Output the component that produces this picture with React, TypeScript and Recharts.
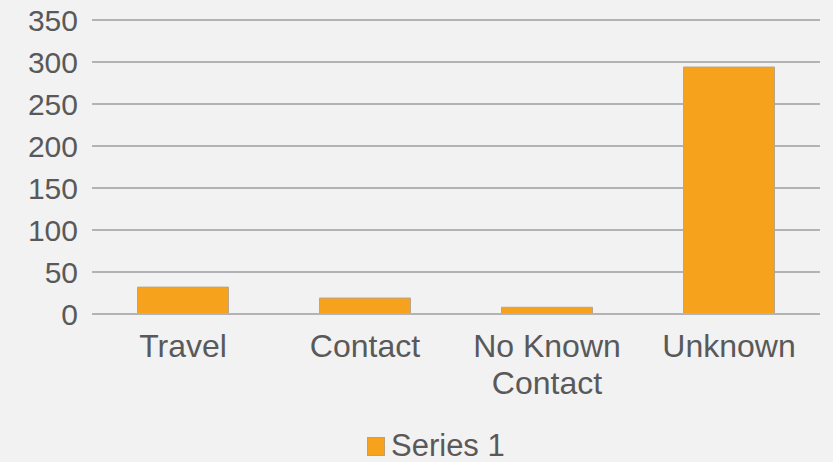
import React from 'react';
import { BarChart, Bar, XAxis, YAxis, CartesianGrid, Legend } from 'recharts';

const categories = ['Travel', 'Contact', 'No Known Contact', 'Unknown'];
const series1 = [32, 19, 8, 294];
const yTicks = [0, 50, 100, 150, 200, 250, 300, 350];

const data = categories.map((c, i) => ({ name: c, value: series1[i] }));

const FONT = '"Liberation Sans", Arial, sans-serif';
const TEXT = '#595959';
const GRID = '#b3b3b3';
const ORANGE = '#f6a21d';

const wrap = (s: string): string[] => {
  if (s.length <= 10) return [s];
  const idx = s.lastIndexOf(' ');
  return [s.slice(0, idx), s.slice(idx + 1)];
};

const XTick = (props: any) => {
  const { x, y, payload } = props;
  const lines = wrap(String(payload.value));
  return (
    <text x={x} y={y} textAnchor="middle" fill={TEXT} fontSize={32} fontFamily={FONT}>
      {lines.map((l, i) => (
        <tspan key={i} x={x} dy={i === 0 ? 35 : 37}>{l}</tspan>
      ))}
    </text>
  );
};

const LegendContent = () => (
  <div style={{ position: 'relative', height: 48, fontFamily: FONT }}>
    <div style={{ position: 'absolute', left: 367, top: 23, width: 18, height: 19, background: ORANGE, boxSizing: 'border-box', border: '1px solid #c0a070' }} />
    <div style={{ position: 'absolute', left: 391, top: 14, fontSize: 31, lineHeight: '35px', color: TEXT, whiteSpace: 'nowrap' }}>Series 1</div>
  </div>
);

export default function App() {
  return (
    <div style={{ position: 'absolute', left: 0, top: 0, width: 833, height: 462, background: '#f2f2f2' }}>
      <BarChart width={833} height={462} data={data} margin={{ top: 20, right: 13, bottom: 0, left: 0 }} barCategoryGap="25%">
        <CartesianGrid vertical={false} stroke={GRID} strokeWidth={2} />
        <XAxis dataKey="name" height={100} tick={<XTick />} tickLine={false} axisLine={{ stroke: GRID, strokeWidth: 2 }} interval={0} />
        <YAxis width={92} domain={[0, 350]} ticks={yTicks} tickLine={false} tickSize={0} tickMargin={14} axisLine={false}
          tick={{ fill: TEXT, fontSize: 30, fontFamily: FONT }} interval={0} />
        <Legend verticalAlign="bottom" align="left" height={48} content={<LegendContent />} wrapperStyle={{ left: 0, width: 833 }} />
        <Bar dataKey="value" name="Series 1" fill={ORANGE} stroke="#b8a58a" strokeWidth={1} isAnimationActive={false} />
      </BarChart>
    </div>
  );
}
